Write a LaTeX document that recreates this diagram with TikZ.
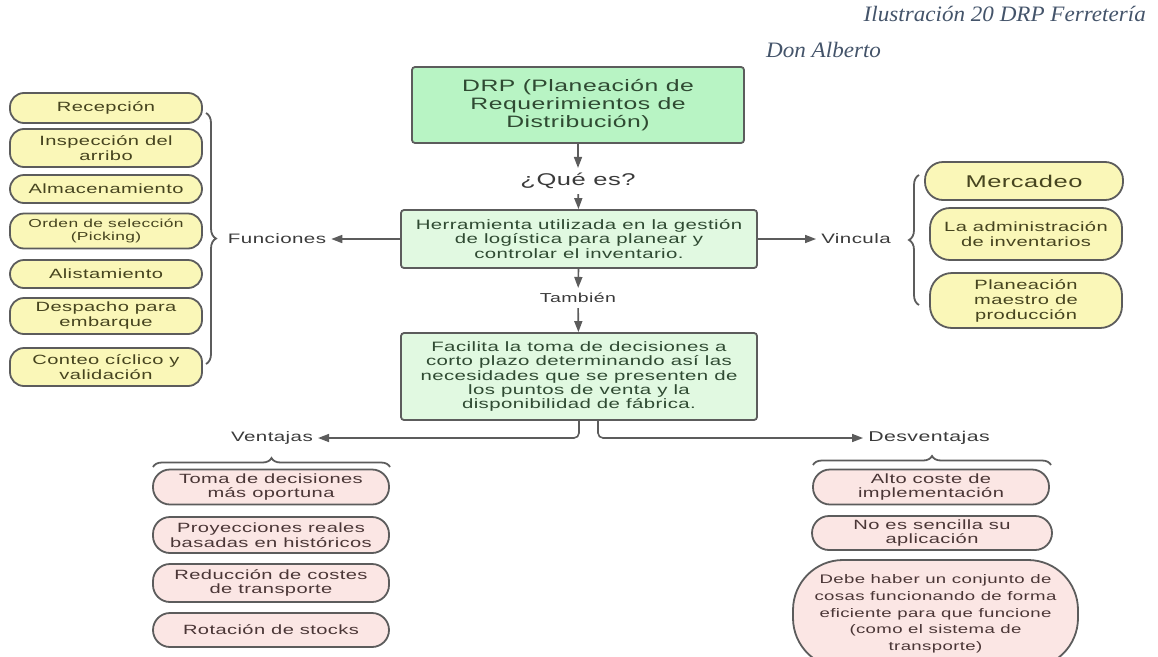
\documentclass[tikz,border=0pt]{standalone}
\usepackage{fontspec}
\setmainfont{Liberation Sans}[FakeStretch=1.5,LetterSpace=3]
\newfontfamily\captionfont{Liberation Serif}[FakeStretch=1.05]
\usetikzlibrary{arrows.meta,decorations.pathreplacing}
\definecolor{txtgray}{HTML}{3A3A3A}
\definecolor{linegray}{HTML}{5C5C5C}
\definecolor{drpgreen}{HTML}{B8F4C4}
\definecolor{boxgreen}{HTML}{E1F9E1}
\definecolor{greentxt}{HTML}{2F4A32}
\definecolor{funcyellow}{HTML}{FAF7B8}
\definecolor{yellowtxt}{HTML}{46441F}
\definecolor{ventpink}{HTML}{FBE6E4}
\definecolor{pinktxt}{HTML}{4A3636}
\definecolor{captionblue}{HTML}{44546A}

\begin{document}
\begin{tikzpicture}[x=1pt,y=-1pt,>={Triangle[length=11pt,width=8pt]},
  greenbox/.style={draw=linegray,line width=1.8pt,rounded corners=3pt,align=center,text=greentxt,inner sep=0pt,minimum width=356pt},
  funcion/.style={draw=linegray,line width=1.8pt,fill=funcyellow,align=center,text=yellowtxt,inner sep=0pt,minimum width=192pt,rounded corners=14pt,font=\fontsize{13.4}{15}\selectfont},
  pro/.style={draw=linegray,line width=1.8pt,fill=ventpink,align=center,text=pinktxt,inner sep=0pt,minimum width=236pt,rounded corners=17pt,font=\fontsize{13.4}{14.5}\selectfont},
  lbl/.style={text=txtgray,inner sep=5pt,font=\fontsize{13.7}{15}\selectfont},
  flow/.style={draw=linegray,line width=1.6pt},
  llave/.style={draw=linegray,line width=1.8pt,decorate,decoration={brace,amplitude=10pt}}]
\useasboundingbox (0,0) rectangle (1158,656);

\node [anchor=east,text=captionblue,inner sep=0pt,font=\captionfont\itshape\fontsize{22}{24}\selectfont] (CAP1) at (1146,14) {Ilustración 20 DRP Ferretería};
\node [anchor=west,text=captionblue,inner sep=0pt,font=\captionfont\itshape\fontsize{22}{24}\selectfont] (CAP2) at (766,50) {Don Alberto};

\node [greenbox,fill=drpgreen,minimum width=332pt,minimum height=76pt,font=\fontsize{16.5}{18}\selectfont] (DRP) at (578,105) {DRP (Planeación de\\Requerimientos de\\Distribución)};
\node [lbl,font=\fontsize{17}{18}\selectfont] (QUE) at (578,181) {¿Qué es?};
\node [greenbox,fill=boxgreen,minimum height=58pt,font=\fontsize{13.6}{14.2}\selectfont] (HERR) at (579,239) {Herramienta utilizada en la gestión\\de logística para planear y\\controlar el inventario.};
\node [lbl,font=\fontsize{13}{14}\selectfont] (TAMB) at (578,298) {También};
\node [greenbox,fill=boxgreen,minimum height=87pt,font=\fontsize{13.6}{14.3}\selectfont] (FACIL) at (579,376.5) {Facilita la toma de decisiones a\\corto plazo determinando así las\\necesidades que se presenten de\\los puntos de venta y la\\disponibilidad de fábrica.};

\node [lbl] (FUNC) at (277,239) {Funciones};
\node [lbl] (VINC) at (856,239) {Vincula};
\node [lbl] (VENT) at (272,438) {Ventajas};
\node [lbl,font=\fontsize{14.2}{15}\selectfont] (DESV) at (929,438) {Desventajas};

\node [funcion,minimum height=30pt] (RECEP) at (106,108) {Recepción};
\node [funcion,minimum height=38pt] (INSP) at (106,148) {Inspección del\\arribo};
\node [funcion,minimum height=28pt] (ALMAC) at (106,189) {Almacenamiento};
\node [funcion,minimum height=35pt,font=\fontsize{11.6}{12.3}\selectfont] (ORDEN) at (106,231) {Orden de selección\\(Picking)};
\node [funcion,minimum height=28pt] (ALIST) at (106,274) {Alistamiento};
\node [funcion,minimum height=36pt] (DESP) at (106,316) {Despacho para\\embarque};
\node [funcion,minimum height=38pt] (CONT) at (106,367) {Conteo cíclico y\\validación};

\node [funcion,minimum width=198pt,minimum height=38pt,rounded corners=18pt,font=\fontsize{17}{18}\selectfont] (MERC) at (1024,181) {Mercadeo};
\node [funcion,minimum height=52pt,rounded corners=20pt] (ADMIN) at (1026,234) {La administración\\de inventarios};
\node [funcion,minimum height=55pt,rounded corners=22pt] (PLAN) at (1026,300.5) {Planeación\\maestro de\\producción};

\node [pro,minimum height=35pt] (TOMA) at (271,487) {Toma de decisiones\\más oportuna};
\node [pro,minimum height=36pt] (PROY) at (271,535) {Proyecciones reales\\basadas en históricos};
\node [pro,minimum height=38pt] (REDU) at (271,583) {Reducción de costes\\de transporte};
\node [pro,minimum height=34pt] (ROTA) at (271,630) {Rotación de stocks};

\node [pro,minimum width=236pt,minimum height=35pt] (ALTO) at (931,487) {Alto coste de\\implementación};
\node [pro,minimum width=240pt,minimum height=34pt] (SENC) at (932,533) {No es sencilla su\\aplicación};
\node [pro,minimum width=285pt,minimum height=108pt,rounded corners=50pt,font=\fontsize{12.4}{16.7}\selectfont] (DEBE) at (935.5,614) {Debe haber un conjunto de\\cosas funcionando de forma\\eficiente para que funcione\\(como el sistema de\\transporte)};

\draw [flow,->] (DRP) to (QUE);
\draw [flow,->] (QUE) to (HERR);
\draw [flow,->] (HERR) to (TAMB);
\draw [flow,->] (TAMB) to (FACIL);
\draw [flow,->] (HERR) to (FUNC);
\draw [flow,->] (HERR) to (VINC);
\draw [flow,->,rounded corners=5pt] (FACIL.south) |- (VENT);
\draw [flow,->,rounded corners=5pt] ([xshift=19pt]FACIL.south) |- (DESV);

\draw [llave] (206,113) -- (206,364);
\draw [llave] (919,305) -- (919,175);
\draw [llave,decoration={amplitude=9pt}] (153,467) -- (390,467);
\draw [llave,decoration={amplitude=9pt}] (813,465) -- (1051,465);
\end{tikzpicture}
\end{document}
